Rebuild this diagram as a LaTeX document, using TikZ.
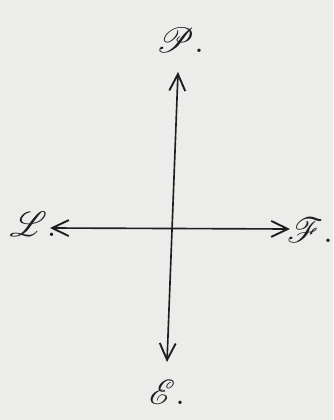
\documentclass[tikz,border=0pt]{standalone}
\usepackage{mathrsfs}
\usetikzlibrary{arrows.meta}
\definecolor{paper}{RGB}{236,237,234}
\definecolor{ink}{RGB}{30,30,30}
\tikzset{axis/.style={draw=ink,line width=1.4pt,{Straight Barb[length=5mm,width=4.8mm,line width=1.6pt]}-{Straight Barb[length=5mm,width=4.8mm,line width=1.6pt]}},
lab/.style={text=ink,font=\Huge,scale=1.2}}
\begin{document}
\begin{tikzpicture}[x=0.03cm,y=-0.03cm]
\fill[paper] (0,0) rectangle (333,420);
\useasboundingbox (0,0) rectangle (333,420);
\coordinate (t) at (178,72);
\coordinate (b) at (167,362);
\coordinate (l) at (50,228);
\coordinate (r) at (290,229);
\draw[axis] (b) -- (t);
\draw[axis] (l) -- (r);
\node[lab] (P) at (180,40) {$\mathscr{P}.$};
\node[lab] (L) at (33,224) {$\mathscr{L}.$};
\node[lab] (F) at (310,230) {$\mathscr{F}.$};
\node[lab] (E) at (167,392) {$\mathscr{E}.$};
\end{tikzpicture}
\end{document}
